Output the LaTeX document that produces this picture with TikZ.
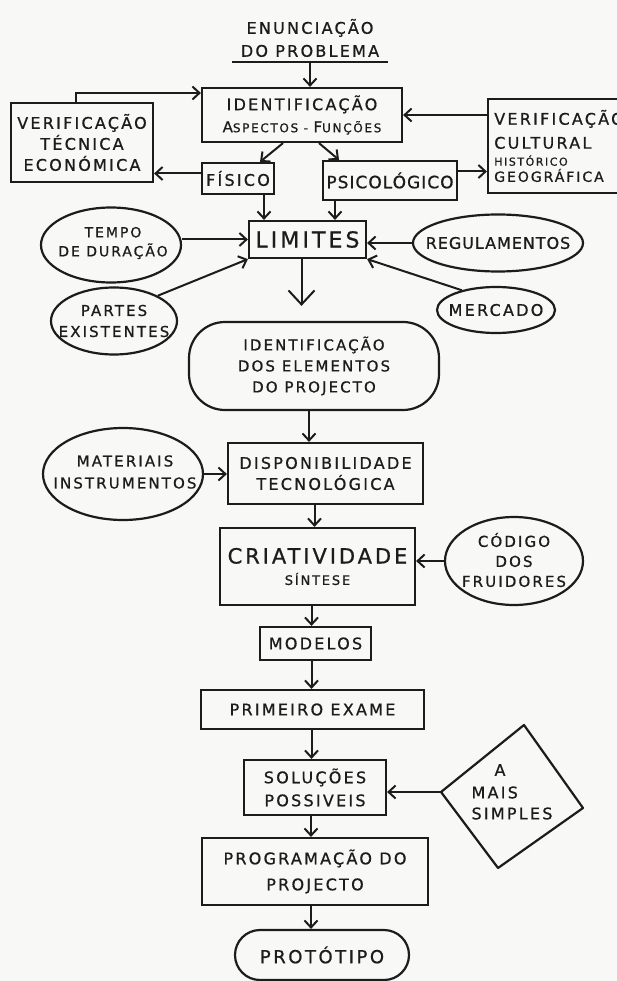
\documentclass[tikz,border=0pt]{standalone}
\usepackage{fontspec}
\setmainfont{DejaVu Sans}[LetterSpace=14,FakeBold=0.8]
\newfontfamily\tighter{DejaVu Sans}[LetterSpace=6,FakeBold=0.8]
\usetikzlibrary{arrows.meta,shapes.geometric}
\newcommand\hsz[2]{\fontsize{#1}{#2}\selectfont}
\definecolor{ink}{HTML}{1C1C1C}
\definecolor{paper}{HTML}{F8F8F6}
\begin{document}
\begin{tikzpicture}[x=1pt,y=-1pt,
  every node/.style={text=ink},
  box/.style={draw=ink, line width=2.2pt, rectangle, inner sep=0pt, align=center},
  oval/.style={draw=ink, line width=2.2pt, ellipse, inner sep=0pt},
  txt/.style={inner sep=0pt, align=center},
  arr/.style={draw=ink, line width=2pt, -{Straight Barb[length=7pt,width=13pt]}},
  bigarr/.style={draw=ink, line width=2pt, -{Straight Barb[length=14pt,width=26pt]}},
  line/.style={draw=ink, line width=2.2pt}]
\fill[paper] (0,0) rectangle (617,981);
\clip (0,0) rectangle (617,981);

% title
\node[txt, font=\hsz{16}{23}] (ti) at (310,38) {ENUNCIAÇÃO\\DO PROBLEMA};
\coordinate (ul) at (310,62);
\draw[line] ([xshift=-78pt]ul) -- ([xshift=78pt]ul);

% top level
\node[box, minimum width=200pt, minimum height=54pt, font=\hsz{16}{22}] (id) at (302,115)
  {IDENTIFICAÇÃO\\{\hsz{15}{22}A\hsz{12}{22}SPECTOS - \hsz{15}{22}F\hsz{12}{22}UNÇÕES}};
\node[box, minimum width=142pt, minimum height=79pt, font=\hsz{16}{21}] (vt) at (82,142.5)
  {VERIFICAÇÃO\\TÉCNICA\\ECONÓMICA};
\node[box, minimum width=142pt, minimum height=94pt, align=left] (vc) at (559,146)
  {\hsz{16}{16}VERIFICAÇÃO\\[8pt]\hsz{16}{16}CULTURAL\\[5pt]\hsz{11}{11}HISTÓRICO\\[2pt]\hsz{14}{14}GEOGRÁFICA};
\node[box, minimum width=72pt, minimum height=31pt, font=\hsz{16}{18}] (fi) at (238,178.5) {FÍSICO};
\node[box, minimum width=134pt, minimum height=39pt, font=\tighter\hsz{17}{18}] (ps) at (390,180.5) {PSICOLÓGICO};

\draw[arr] (ul) -- (ul |- id.north);
\draw[arr] ([xshift=-6pt]vt.north) |- ([yshift=22pt]id.west);
\draw[arr] (vc.west |- id.east) -- (id.east);
\draw[arr] ([xshift=-19pt]id.south) -- ([xshift=22pt]fi.north);
\draw[arr] ([xshift=17pt]id.south) -- ([xshift=-51pt]ps.north);
\draw[arr] ([yshift=5pt]fi.west) -- ([yshift=5pt]fi.west -| vt.east);
\draw[arr] ([yshift=9pt]ps.east) -- ([yshift=9pt]ps.east -| vc.west);

% limites
\node[box, minimum width=117pt, minimum height=37pt, font=\hsz{22}{24}] (li) at (307.5,239.5) {LIMITES};
\draw[arr] ([xshift=26pt]fi.south) -- ([xshift=26pt]fi.south |- li.north);
\draw[arr] ([xshift=-55pt]ps.south) -- ([xshift=-55pt]ps.south |- li.north);

\node[oval, minimum width=140pt, minimum height=75pt] (te) at (111,245) {};
\node[txt, font=\hsz{14}{19}] (tet) at (113,243) {TEMPO\\DE DURAÇÃO};
\node[oval, minimum width=170pt, minimum height=57pt] (re) at (498,243) {};
\node[txt, font=\tighter\hsz{16}{18}] (ret) at (498,243) {REGULAMENTOS};
\node[oval, minimum width=126pt, minimum height=67pt] (pa) at (114,321) {};
\node[txt, font=\hsz{15}{21}] (pat) at (114,321) {PARTES\\EXISTENTES};
\node[oval, minimum width=118pt, minimum height=46pt] (me) at (496,310) {};
\node[txt, font=\hsz{16}{18}] (met) at (496,310) {MERCADO};

\draw[arr] (te.east |- li.west) -- (li.west);
\draw[arr] (re.west) -- (re.west -| li.east);
\draw[arr] (pa.30) -- (li.south west);
\draw[arr] (me.150) -- (li.south east);

% elementos
\node[draw=ink, line width=2.2pt, rounded corners=36pt, minimum width=250pt, minimum height=88pt,
  inner sep=0pt, align=center, font=\hsz{15}{21}] (el) at (314,366)
  {IDENTIFICAÇÃO\\DOS ELEMENTOS\\DO PROJECTO};
\draw[bigarr] ([xshift=-6pt]li.south) -- ([xshift=-6pt,yshift=15pt]li.south |- el.north);

% disponibilidade
\node[box, minimum width=195pt, minimum height=61pt, font=\hsz{16}{21}] (di) at (325.5,473.5)
  {DISPONIBILIDADE\\TECNOLÓGICA};
\node[oval, minimum width=160pt, minimum height=92pt] (ma) at (123,474) {};
\node[txt, font=\hsz{15}{22}] (mat) at (125,472) {MATERIAIS\\INSTRUMENTOS};
\draw[arr] ([xshift=-5pt]el.south) -- ([xshift=-5pt]el.south |- di.north);
\draw[arr] (ma.east) -- (ma.east -| di.west);

% criatividade
\node[box, minimum width=195pt, minimum height=77pt, align=center] (cr) at (317.5,566.5)
  {\hsz{21}{21}CRIATIVIDADE\\[8pt]\hsz{13}{13}SÍNTESE};
\node[oval, minimum width=138pt, minimum height=88pt] (co) at (514,561) {};
\node[txt, font=\hsz{15}{20}] (cot) at (514,560) {CÓDIGO\\DOS\\FRUIDORES};
\draw[arr] ([xshift=-11pt]di.south) -- ([xshift=-11pt]di.south |- cr.north);
\draw[arr] (co.west) -- (co.west -| cr.east);

% lower chain
\node[box, minimum width=111pt, minimum height=33pt, font=\hsz{16}{18}] (mo) at (315.5,643.5) {MODELOS};
\node[box, minimum width=223pt, minimum height=39pt, font=\hsz{16}{18}] (pe) at (312.5,709.5) {PRIMEIRO EXAME};
\node[box, minimum width=142pt, minimum height=55pt, font=\hsz{16}{23}] (so) at (315,787.5) {SOLUÇÕES\\POSSIVEIS};
\node[box, minimum width=226pt, minimum height=67pt, font=\hsz{16}{26}] (pr) at (315,871.5) {PROGRAMAÇÃO DO\\PROJECTO};
\node[draw=ink, line width=2.2pt, rounded corners=25pt, minimum width=174pt, minimum height=50pt,
  inner sep=0pt, font=\hsz{18}{20}] (pt) at (322,955) {PROTÓTIPO};

\draw[arr] ([xshift=-6pt]cr.south) -- ([xshift=-6pt]cr.south |- mo.north);
\draw[arr] ([xshift=-4pt]mo.south) -- ([xshift=-4pt]mo.south |- pe.north);
\draw[arr] ([xshift=-1pt]pe.south) -- ([xshift=-1pt]pe.south |- so.north);
\draw[arr] ([xshift=-4pt]so.south) -- ([xshift=-4pt]so.south |- pr.north);
\draw[arr] ([xshift=-4pt]pr.south) -- ([xshift=-4pt]pr.south |- pt.north);

% diamond
\coordinate (dT) at (524,725);
\coordinate (dL) at (441,792);
\coordinate (dR) at (583,808);
\coordinate (dB) at (498,868);
\draw[line, line join=round] (dT) -- (dR) -- (dB) -- (dL) -- cycle;
\node[txt, font=\hsz{16}{18}] (da) at (500,770) {A};
\node[txt, font=\hsz{16}{21}, align=left] (dm) at (512,803) {MAIS\\SIMPLES};
\draw[arr] (dL) -- (dL -| so.east);
\end{tikzpicture}
\end{document}
